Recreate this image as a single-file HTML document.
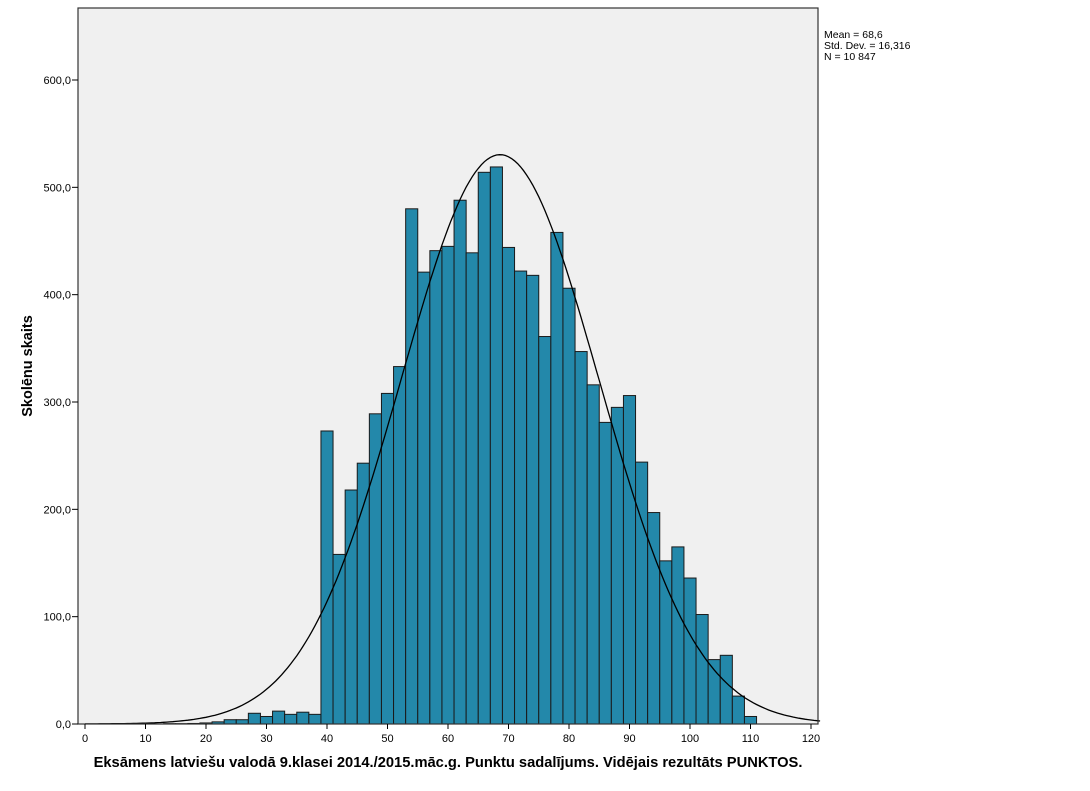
<!DOCTYPE html>
<html><head><meta charset="utf-8"><style>
body{margin:0;background:#fff;width:1090px;height:786px;overflow:hidden;font-family:"Liberation Sans",Arial,sans-serif}
</style></head><body>
<svg id="c" width="1090" height="786" xmlns="http://www.w3.org/2000/svg"></svg>
<script>
const binStarts=[13,15,17,19,21,23,25,27,29,31,33,35,37,39,41,43,45,47,49,51,53,55,57,59,61,63,65,67,69,71,73,75,77,79,81,83,85,87,89,91,93,95,97,99,101,103,105,107,109];
const counts=[0.3,0.3,0.5,1,2,4,4,10,7,12,9,11,9,273,158,218,243,289,308,333,480,421,441,445,488,439,514,519,444,422,418,361,458,406,347,316,281,295,306,244,197,152,165,136,102,60,64,26,7];
const binWidth=2;
const xTicks=[0,10,20,30,40,50,60,70,80,90,100,110,120];
const yTicks=[0,100,200,300,400,500,600];
const yTickLabels=["0,0","100,0","200,0","300,0","400,0","500,0","600,0"];
const stats={mean:68.6,sd:16.316,n:10847};
const legendLines=["Mean = 68,6","Std. Dev. = 16,316","N = 10 847"];

const NS="http://www.w3.org/2000/svg",svg=document.getElementById('c');
const L=78,R=818,T=8,B=724;
const X=v=>85+v*6.05, Y=v=>724-v*(644/600);
function mk(t,a,p){const e=document.createElementNS(NS,t);for(const k in a)e.setAttribute(k,a[k]);(p||svg).appendChild(e);return e;}
let e=mk('rect',{x:L,y:T,width:R-L,height:B-T,fill:'#f0f0f0'});

binStarts.forEach((s,i)=>{const x0=X(s),x1=X(s+binWidth),y=Y(counts[i]);
 const b=mk('rect',{x:x0,y:y,width:x1-x0,height:B-y,fill:'#2388aa',stroke:'#1a1a1a','stroke-width':1});
 });
let d='';const k=stats.n*binWidth/(stats.sd*Math.sqrt(2*Math.PI));
for(let v=0;v<=121.9;v+=0.5){const f=k*Math.exp(-Math.pow((v-stats.mean)/stats.sd,2)/2);d+=(d?'L':'M')+X(v).toFixed(1)+','+Y(f).toFixed(1);}
e=mk('path',{d:d,fill:'none',stroke:'#000','stroke-width':1.3});

e=mk('rect',{x:L,y:T,width:R-L,height:B-T,fill:'none',stroke:'#333','stroke-width':1.2});

xTicks.forEach(v=>{mk('line',{x1:X(v),x2:X(v),y1:B,y2:B+5,stroke:'#000'});
 const t=mk('text',{x:X(v),y:B+18,'text-anchor':'middle','font-size':11});t.textContent=v;
 });
yTicks.forEach((v,i)=>{mk('line',{x1:L-6,x2:L,y1:Y(v),y2:Y(v),stroke:'#000'});
 const t=mk('text',{x:L-7,y:Y(v)+4,'text-anchor':'end','font-size':11});t.textContent=yTickLabels[i];
 });
legendLines.forEach((s,i)=>{const t=mk('text',{x:824,y:38+i*11,'font-size':10.5});t.textContent=s;
 });
e=mk('text',{x:448,y:767,'text-anchor':'middle','font-size':14.7,'font-weight':'bold'});
e.textContent='Eksāmens latviešu valodā 9.klasei 2014./2015.māc.g. Punktu sadalījums. Vidējais rezultāts PUNKTOS.';

e=mk('text',{x:32,y:366,'text-anchor':'middle','font-size':14.5,'font-weight':'bold',transform:'rotate(-90 32 366)'});
e.textContent='Skolēnu skaits';

</script>
</body></html>
